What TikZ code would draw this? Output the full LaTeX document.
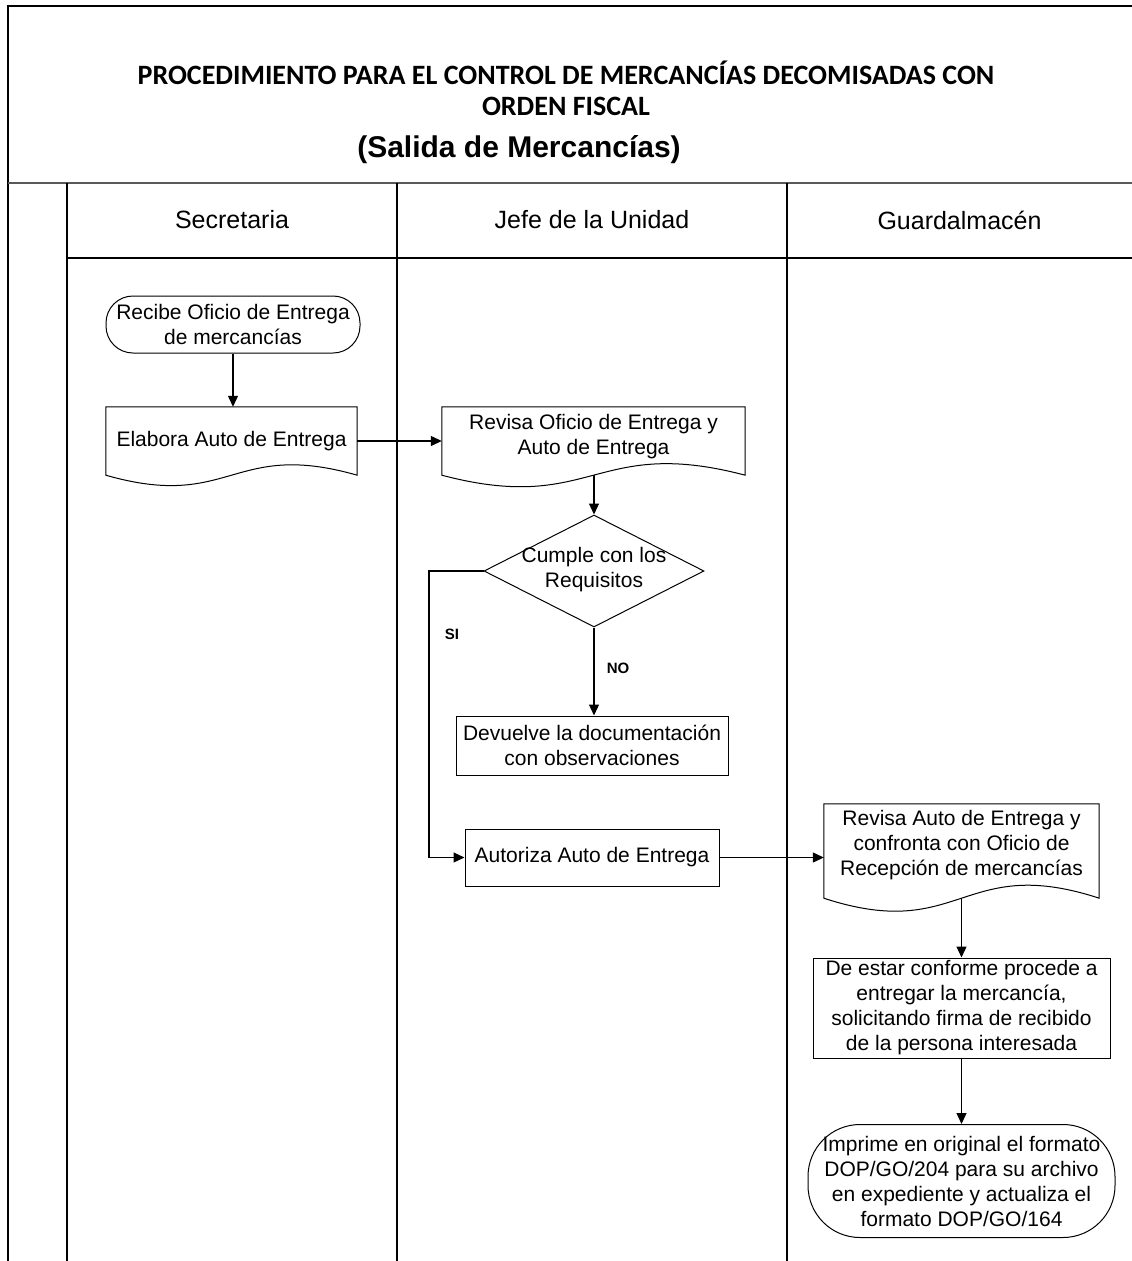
\documentclass[tikz,border=0pt]{standalone}
\usepackage{fontspec}
\setmainfont{Liberation Sans}
\newfontfamily\titlefont{Carlito}
\usetikzlibrary{arrows.meta,shapes.geometric,calc}
\tikzset{
  frame/.style={line width=1.6pt,black},
  body/.style={font=\fontsize{21}{25}\selectfont,align=center},
  procbox/.style={body,draw,line width=1pt,inner sep=0pt},
  termbox/.style={body,draw,line width=1pt,inner sep=0pt},
  docbox/.style={body,inner sep=0pt},
  decbox/.style={draw,line width=1pt,shape=diamond,inner sep=0pt},
  arr/.style={line width=1.2pt,-{Triangle[length=11pt,width=10pt]}},
  lane/.style={font=\fontsize{25}{30}\selectfont},
  lbl/.style={font=\fontsize{15}{18}\selectfont\bfseries}
}
\newcommand{\docpath}[2]{\draw[line width=1pt] (#1.north west) -- (#1.north east) -- (#1.south east) .. controls ($(#1.south)+(0pt,#2)$) and ($(#1.south)+(0pt,-#2)$) .. (#1.south west) -- cycle;}
\begin{document}
\begin{tikzpicture}[x=1pt,y=-1pt]
\useasboundingbox (0,0) rectangle (1132,1261);
% frame
\draw[frame] (1132,6) -- (8,6) -- (8,1261);
\draw[frame,line width=2.2pt,gray!70!black] (8,183) -- (1132,183);
\draw[frame] (67,258) -- (1132,258);
\draw[frame] (67,183) -- (67,1261);
\draw[frame] (397,183) -- (397,1261);
\draw[frame] (787,183) -- (787,1261);
% title
\node[font=\titlefont\bfseries\fontsize{28}{31}\selectfont,align=center] (t1) at (566,88) {PROCEDIMIENTO PARA EL CONTROL DE MERCANCÍAS DECOMISADAS CON\\ORDEN FISCAL};
\node[font=\bfseries\fontsize{30}{36}\selectfont] (t2) at (519,150) {(Salida de Mercancías)};
% lanes
\node[lane] (h1) at (232,220) {Secretaria};
\node[lane] (h2) at (592,220) {Jefe de la Unidad};
\node[lane] (h3) at (959.5,220) {Guardalmacén};
% nodes
\node[termbox,rounded corners=27pt,minimum width=254pt,minimum height=57pt] (n1) at (233,324.5) {Recibe Oficio de Entrega\\de mercancías};
\node[docbox,minimum width=251pt,minimum height=68pt] (n2) at (231.5,441) {Elabora Auto de Entrega};
\docpath{n2}{36pt}
\node[docbox,minimum width=303pt,minimum height=68pt] (n3) at (593.5,441) {};
\node[body] (n3t) at (593.5,436.5) {Revisa Oficio de Entrega y\\Auto de Entrega};
\docpath{n3}{40pt}
\node[decbox,minimum width=220pt,minimum height=112pt] (d) at (594,571) {};
\node[body] (dt) at (594,570) {Cumple con los\\Requisitos};
\node[procbox,minimum width=272pt,minimum height=59pt] (n4) at (592,745.5) {Devuelve la documentación\\con observaciones};
\node[procbox,minimum width=254pt,minimum height=57pt] (n5) at (592,857.5) {Autoriza Auto de Entrega};
\node[docbox,minimum width=275pt,minimum height=94pt] (n6) at (961.5,851) {};
\node[body] (n6t) at (961.5,845) {Revisa Auto de Entrega y\\confronta con Oficio de\\Recepción de mercancías};
\docpath{n6}{45pt}
\node[procbox,minimum width=297pt,minimum height=100pt] (n7) at (961.5,1008) {De estar conforme procede a\\entregar la mercancía,\\solicitando firma de recibido\\de la persona interesada};
\node[termbox,rounded corners=52pt,minimum width=307pt,minimum height=113pt] (n8) at (961.5,1181) {Imprime en original el formato\\DOP/GO/204 para su archivo\\en expediente y actualiza el\\formato DOP/GO/164};
% connectors
\coordinate (si) at (429,571);
\draw[arr] (n1.south) -- (n1.south |- n2.north);
\draw[arr] (n2.east) -- (n2.east -| n3.west);
\draw[arr] (d.north |- n3.south) -- (d.north);
\draw[arr] (d.south) -- (d.south |- n4.north);
\draw[arr] (d.west) -- (si) |- (n5.west);
\draw[arr] (n5.east) -- (n5.east -| n6.west);
\draw[arr] (n6.south) -- (n7.north);
\draw[arr] (n7.south) -- (n8.north);
\node[lbl] (lsi) at (452,634) {SI};
\node[lbl] (lno) at (618,668) {NO};
\end{tikzpicture}
\end{document}
